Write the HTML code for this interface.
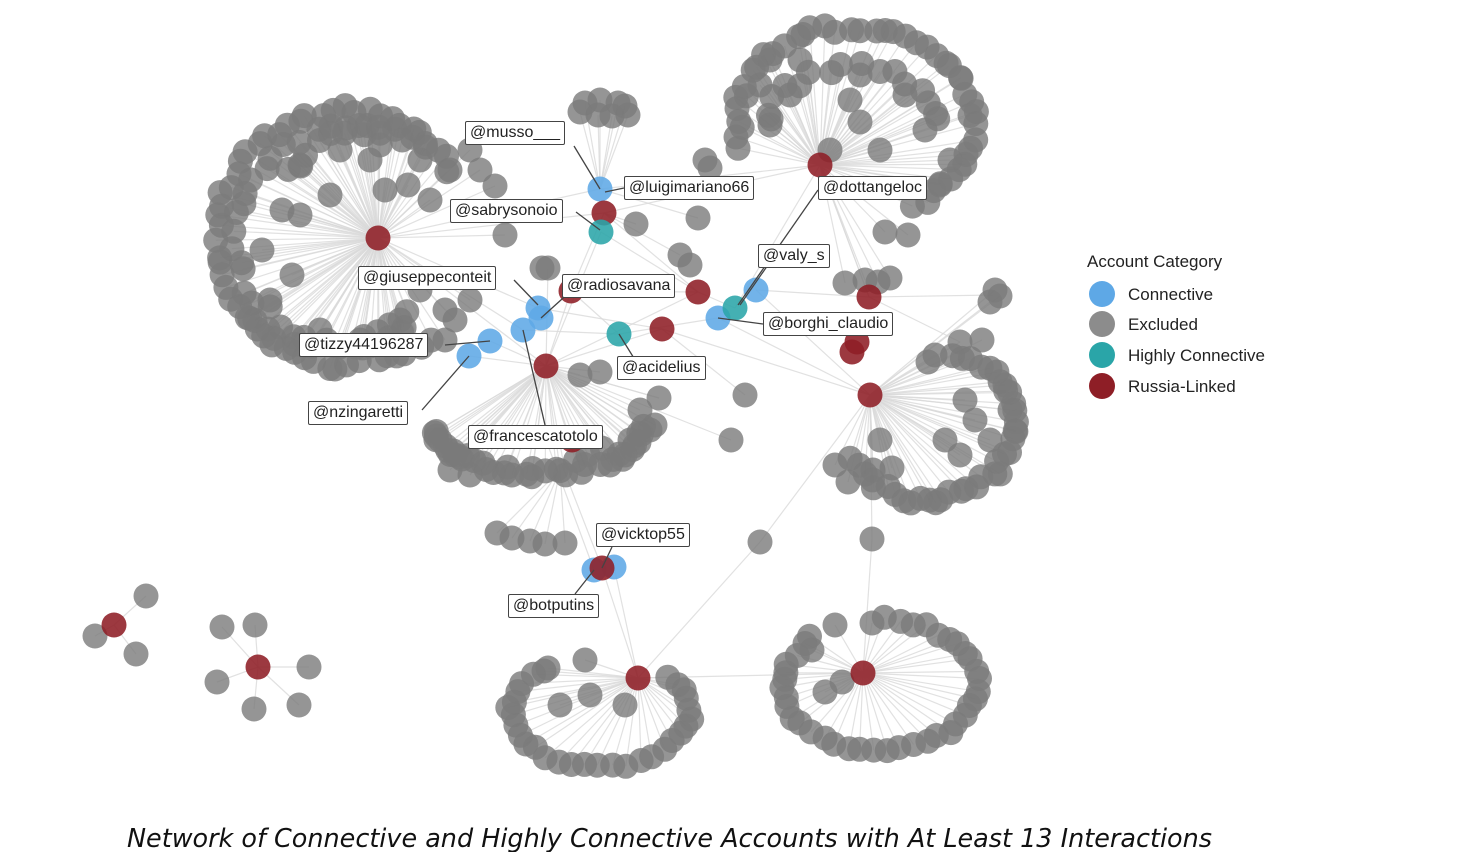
<!DOCTYPE html>
<html><head><meta charset="utf-8">
<style>
html,body{margin:0;padding:0;background:#fff;}
#wrap{position:relative;width:1463px;height:852px;overflow:hidden;font-family:"Liberation Sans",sans-serif;}
svg{position:absolute;left:0;top:0;}
.lb{position:absolute;background:#fff;border:1px solid #444;border-radius:2px;font-size:16px;line-height:22px;padding:0 4px;color:#222;white-space:nowrap;box-sizing:border-box;height:24px;}
.lg{position:absolute;font-size:17px;color:#222;}
</style></head><body>
<div id="wrap">
<svg id="g" width="1463" height="852" xmlns="http://www.w3.org/2000/svg"></svg>
<div class="lb" style="left:465px;top:121px;">@musso___</div>
<div class="lb" style="left:624px;top:176px;">@luigimariano66</div>
<div class="lb" style="left:450px;top:199px;">@sabrysonoio</div>
<div class="lb" style="left:818px;top:176px;">@dottangeloc</div>
<div class="lb" style="left:758px;top:244px;">@valy_s</div>
<div class="lb" style="left:358px;top:266px;">@giuseppeconteit</div>
<div class="lb" style="left:562px;top:274px;">@radiosavana</div>
<div class="lb" style="left:763px;top:312px;">@borghi_claudio</div>
<div class="lb" style="left:299px;top:333px;">@tizzy44196287</div>
<div class="lb" style="left:617px;top:356px;">@acidelius</div>
<div class="lb" style="left:308px;top:401px;">@nzingaretti</div>
<div class="lb" style="left:468px;top:425px;">@francescatotolo</div>
<div class="lb" style="left:596px;top:523px;">@vicktop55</div>
<div class="lb" style="left:508px;top:594px;">@botputins</div>
<div class="lg" style="left:1087px;top:252px;">Account Category</div>
<div class="lg" style="left:1128px;top:285px;">Connective</div>
<div class="lg" style="left:1128px;top:315px;">Excluded</div>
<div class="lg" style="left:1128px;top:346px;">Highly Connective</div>
<div class="lg" style="left:1128px;top:377px;">Russia-Linked</div>
<svg width="1463" height="852" style="pointer-events:none"><text x="127" y="847" font-family="'DejaVu Sans','Liberation Sans',sans-serif" font-style="italic" font-size="26" fill="#111" textLength="1085" lengthAdjust="spacingAndGlyphs">Network of Connective and Highly Connective Accounts with At Least 13 Interactions</text></svg>
</div>
<script>
(function(){
var NS="http://www.w3.org/2000/svg",svg=document.getElementById("g");
var seed=7;function rnd(){seed=(seed*16807)%2147483647;return seed/2147483647;}
var edges=[],grays=[];
function node(x,y,h){grays.push([x,y]);if(h)edges.push([h[0],h[1],x,y]);}
function arc(cx,cy,rx,ry,a0,a1,n,h,j){j=j||5;for(var i=0;i<n;i++){var a=(a0+(a1-a0)*i/(n-1))*Math.PI/180;node(cx+rx*Math.cos(a)+(rnd()-.5)*j,cy+ry*Math.sin(a)+(rnd()-.5)*j,h);}}
var A=[378,238],B=[820,165],C=[870,395],D=[546,366],E=[638,678],F=[863,673];
// A
arc(345,238,128,128,312,50,50,A,10);
arc(345,238,108,110,300,60,32,A,12);
arc(370,180,80,50,190,350,14,A,10);
arc(330,300,85,45,160,20,14,A,10);
[[495,186],[430,200],[505,235],[470,300],[455,320],[445,340],[282,210],[292,275],[300,165],[340,150],[380,145],[420,160],[450,170],[262,250],[270,300],[320,330],[360,340],[400,320],[420,290],[445,310],[470,150],[480,170],[300,215],[330,195],[370,160],[408,185],[385,190]].forEach(function(p){node(p[0],p[1],A);});
// B
arc(855,122,118,95,165,420,46,B,10);
arc(852,128,85,60,185,355,16,B,10);
[[885,232],[908,235],[865,280],[890,278],[845,283],[878,282],[830,150],[860,122],[770,125],[790,95],[800,60],[860,75],[905,95],[925,130],[880,150],[940,185],[950,160],[760,85],[770,60],[850,100]].forEach(function(p){node(p[0],p[1],B);});
// C
arc(928,425,85,75,-70,150,38,C,10);
[[835,465],[848,482],[873,470],[892,468],[880,440],[995,290],[990,302],[1000,296],[960,342],[982,340],[935,355],[928,362],[965,400],[975,420],[945,440],[960,455],[1005,385],[1010,410],[990,440]].forEach(function(p){node(p[0],p[1],C);});
// D
arc(540,428,105,45,0,180,30,D,10);
arc(520,440,80,30,10,170,10,D,10);
[[580,375],[600,372],[640,410],[655,425],[548,268],[659,398],[440,440],[455,455],[630,440],[650,430],[450,470],[470,475],[610,465],[625,455]].forEach(function(p){node(p[0],p[1],D);});
[[497,533],[512,538],[530,541],[545,544],[565,543]].forEach(function(p){node(p[0],p[1],[560,470]);});
// E
arc(600,712,90,55,-40,230,30,E,6);
[[560,705],[590,695],[625,705],[548,668],[585,660]].forEach(function(p){node(p[0],p[1],E);});
// F
arc(880,685,97,65,-95,225,40,F,6);
[[825,692],[842,682],[812,650],[835,625]].forEach(function(p){node(p[0],p[1],F);});
// top small cluster
[[585,103],[600,100],[618,103],[580,112],[598,115],[612,116],[628,115],[625,106]].forEach(function(p){node(p[0],p[1],[600,189]);});
// misc
[[636,224],[698,218],[705,160],[710,168],[680,255],[690,265],[745,395],[731,440],[760,542],[872,539],[542,268]].forEach(function(p){node(p[0],p[1]);});
var S1=[114,625];[[146,596],[95,636],[136,654]].forEach(function(p){node(p[0],p[1],S1);});
var S2=[258,667];[[222,627],[255,625],[309,667],[217,682],[254,709],[299,705]].forEach(function(p){node(p[0],p[1],S2);});
var cx=[[378,238,600,189],[378,238,546,366],[378,238,604,213],[604,213,698,292],[604,213,820,165],[600,189,820,165],[546,366,698,292],[546,366,662,329],[538,308,662,329],[523,330,619,334],[619,334,718,318],[718,318,870,395],[735,308,820,165],[756,290,869,297],[756,290,870,395],[662,329,870,395],[571,291,698,292],[571,291,619,334],[546,366,571,291],[490,341,546,366],[469,356,546,366],[601,232,698,292],[601,232,546,366],[820,165,869,297],[870,395,872,539],[760,542,638,678],[760,542,870,395],[638,678,863,673],[872,539,863,673],[602,568,638,678],[614,567,638,678],[594,570,546,440],[602,568,560,460],[604,213,571,291],[698,292,735,308],[731,440,546,366],[745,395,662,329],[659,398,546,366],[636,224,604,213],[698,218,600,189],[680,255,604,213],[378,238,523,330],[378,238,538,308],[869,297,994,295],[869,297,960,342],[820,165,869,297]];
edges=edges.concat(cx);
function el(t,a){var e=document.createElementNS(NS,t);for(var k in a)e.setAttribute(k,a[k]);svg.appendChild(e);return e;}
edges.forEach(function(e){el("line",{x1:e[0],y1:e[1],x2:e[2],y2:e[3],stroke:"#d9d9d9","stroke-width":1.2,"stroke-opacity":0.8});});
grays.forEach(function(p){el("circle",{cx:p[0].toFixed(1),cy:p[1].toFixed(1),r:12.5,fill:"#7b7b7b","fill-opacity":0.8});});
var blue="#5ea8e6",red="#8e1e26",teal="#2aa5a8";
var cols=[[600,189,blue],[538,308,blue],[541,318,blue],[523,330,blue],[490,341,blue],[469,356,blue],[718,318,blue],[756,290,blue],[594,570,blue],[614,567,blue],
[378,238,red],[604,213,red],[571,291,red],[546,366,red],[698,292,red],[662,329,red],[820,165,red],[869,297,red],[857,342,red],[852,352,red],[870,395,red],[602,568,red],[638,678,red],[863,673,red],[114,625,red],[258,667,red],[572,440,red],
[601,232,teal],[619,334,teal],[735,308,teal]];
cols.forEach(function(c){el("circle",{cx:c[0],cy:c[1],r:12.5,fill:c[2],"fill-opacity":0.88});});
el("circle",{cx:1102,cy:294,r:13,fill:blue});el("circle",{cx:1102,cy:324,r:13,fill:"#8c8c8c"});
el("circle",{cx:1102,cy:355,r:13,fill:teal});el("circle",{cx:1102,cy:386,r:13,fill:red});
var ld=[[574,146,600,189],[624,188,605,192],[576,212,600,230],[818,190,738,305],[770,262,740,305],[763,324,718,318],[514,280,538,305],[572,290,541,318],[445,345,490,341],[640,368,619,334],[422,410,469,356],[545,425,523,330],[612,547,602,568],[575,594,594,570]];
ld.forEach(function(e){el("line",{x1:e[0],y1:e[1],x2:e[2],y2:e[3],stroke:"#444","stroke-width":1.3});});
})();
</script>
</body></html>
